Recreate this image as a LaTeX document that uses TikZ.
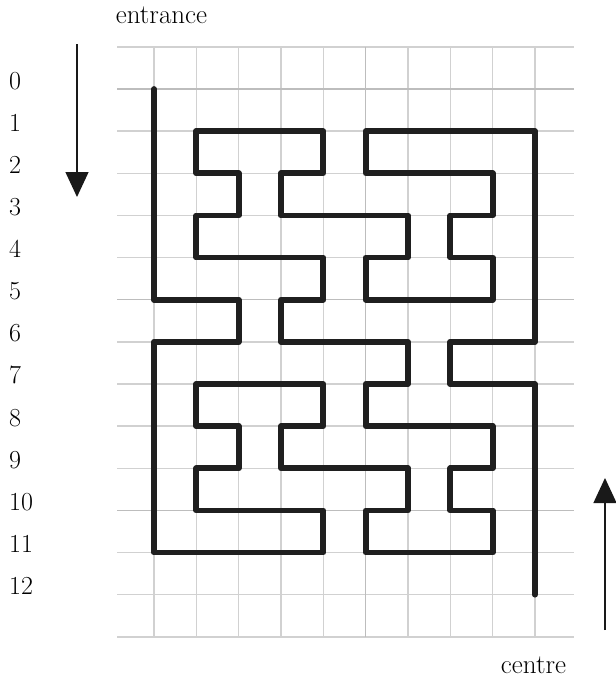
\documentclass[tikz,border=0pt]{standalone}
\usetikzlibrary{arrows.meta}
\begin{document}
\begin{tikzpicture}[x=1pt,y=-1pt,
  gridline/.style={line width=1.4pt,draw=black!18},
  gridmajor/.style={line width=1.4pt,draw=black!26},
  mazeline/.style={line width=5.8pt,draw=black!88,line cap=round,line join=round},
  lbl/.style={font=\fontsize{26}{30}\selectfont,inner sep=0pt,anchor=base west},
  caption/.style={font=\fontsize{27}{31}\selectfont,inner sep=0pt,anchor=base},
  pointer/.style={line width=1.3pt,draw=black!90,-{Triangle[width=23pt,length=25pt]}}]
\useasboundingbox (0,0) rectangle (616,681);
\fill[white] (0,0) rectangle (616,681);
\begin{scope}[shift={(154,89)},x=42.33pt,y=-42.14pt]
  \foreach \r in {-1,...,13}{
    \draw[gridline] (-0.874,\r) -- (9.92,\r);
  }
  \foreach \c in {0,...,9}{
    \draw[gridline] (\c,-1) -- (\c,13);
  }
  \foreach \r in {0,5,10}{
    \draw[gridmajor] (-0.874,\r) -- (9.92,\r);
  }
  \draw[gridmajor] (5,-1) -- (5,13);
  \draw[mazeline] (0,0) -- (0,5) -- (2,5) -- (2,6) -- (0,6) -- (0,11) -- (4,11) -- (4,10)
    -- (1,10) -- (1,9) -- (2,9) -- (2,8) -- (1,8) -- (1,7) -- (4,7) -- (4,8) -- (3,8)
    -- (3,9) -- (6,9) -- (6,10) -- (5,10) -- (5,11) -- (8,11) -- (8,10) -- (7,10)
    -- (7,9) -- (8,9) -- (8,8) -- (5,8) -- (5,7) -- (6,7) -- (6,6) -- (3,6) -- (3,5)
    -- (4,5) -- (4,4) -- (1,4) -- (1,3) -- (2,3) -- (2,2) -- (1,2) -- (1,1) -- (4,1)
    -- (4,2) -- (3,2) -- (3,3) -- (6,3) -- (6,4) -- (5,4) -- (5,5) -- (8,5) -- (8,4)
    -- (7,4) -- (7,3) -- (8,3) -- (8,2) -- (5,2) -- (5,1) -- (9,1) -- (9,6) -- (7,6)
    -- (7,7) -- (9,7) -- (9,12);
\end{scope}
\foreach \r in {0,...,12}{
  \node[lbl] (row\r) at (9,{89+42.14*\r}) {\r};
}
\node[caption] (entrance) at (161.5,23) {entrance};
\node[caption] (centre) at (533.5,673) {centre};
\coordinate (inTop) at (77,44);
\coordinate (inTip) at (77,197);
\coordinate (outBot) at (605,630);
\coordinate (outTip) at (605,478);
\draw[pointer] (inTop) -- (inTip);
\draw[pointer] (outBot) -- (outTip);
\end{tikzpicture}
\end{document}
